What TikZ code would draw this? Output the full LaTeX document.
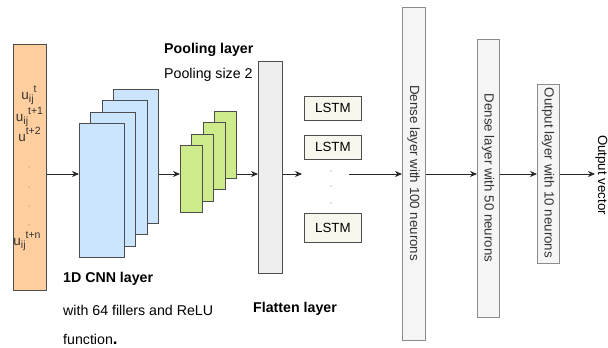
\documentclass[tikz,border=0pt]{standalone}
\usepackage{fontspec}
\setmainfont{Liberation Sans}
\usetikzlibrary{arrows.meta}

\definecolor{inputfill}{HTML}{FFCE9F}
\definecolor{cnnfill}{HTML}{CCE5FF}
\definecolor{poolfill}{HTML}{CDEB8B}
\definecolor{flatfill}{HTML}{EEEEEE}
\definecolor{lstmfill}{HTML}{F9F7ED}
\definecolor{densefill}{HTML}{F5F5F5}
\definecolor{edgegray}{HTML}{4D4D4D}
\definecolor{lightedge}{HTML}{8C8C8C}
\definecolor{txtgray}{HTML}{333333}

% lowered / raised pieces of the input sequence labels
\newcommand\lowpart[1]{\raisebox{-0.28em}{\fontsize{10.5}{10.5}\selectfont #1}}
\newcommand\highpart[1]{\raisebox{0.48em}{\fontsize{10.5}{10.5}\selectfont #1}}

\tikzset{
  layerbox/.style={draw=edgegray, line width=0.8pt, anchor=north west, inner sep=0pt},
  densebox/.style={draw=lightedge, fill=densefill, line width=0.8pt, anchor=north west, inner sep=0pt},
  bigtext/.style={font=\fontsize{14.2}{17}\selectfont, inner sep=0pt, anchor=base west},
  boldtext/.style={bigtext, font=\fontsize{14.2}{17}\selectfont\bfseries},
  smalltext/.style={font=\fontsize{13.3}{16}\selectfont, inner sep=0pt},
  seqtext/.style={font=\fontsize{13.5}{15}\selectfont, text=txtgray, inner sep=0pt, anchor=base},
  arr/.style={-{Stealth[length=7pt,width=6pt]}, line width=0.8pt, draw=black!85},
  dotmark/.style={circle, fill=black!45, inner sep=0pt, minimum size=1.3pt},
}

\begin{document}
\begin{tikzpicture}[x=1pt,y=-1pt]
\useasboundingbox (0,0) rectangle (608,348);

% input sequence
\node[layerbox, fill=inputfill, minimum width=33pt, minimum height=246pt] (inp) at (13,44) {};
\node[seqtext] (s1) at (29,99) {u\lowpart{ij}\highpart{t}};
\node[seqtext] (s2) at (29.5,121) {u\lowpart{ij}\highpart{t+1}};
\node[seqtext] (s3) at (29.5,141) {u\highpart{t+2}};
\node[dotmark] (d1) at (29,167) {};
\node[dotmark] (d2) at (29,187) {};
\node[dotmark] (d3) at (29,206) {};
\node[dotmark] (d4) at (29,225) {};
\node[seqtext] (s4) at (27,245) {u\lowpart{ij}\highpart{t+n}};

% 1D convolution feature maps (back to front)
\node[layerbox, fill=cnnfill, minimum width=45pt, minimum height=134pt] (c4) at (113,89) {};
\node[layerbox, fill=cnnfill, minimum width=45pt, minimum height=134pt] (c3) at (101.7,100.3) {};
\node[layerbox, fill=cnnfill, minimum width=45pt, minimum height=134pt] (c2) at (90.3,111.7) {};
\node[layerbox, fill=cnnfill, minimum width=45pt, minimum height=134pt] (c1) at (79,123) {};

% pooled maps (back to front)
\node[layerbox, fill=poolfill, minimum width=22pt, minimum height=67pt] (p4) at (214,111) {};
\node[layerbox, fill=poolfill, minimum width=22pt, minimum height=67pt] (p3) at (202.7,122.3) {};
\node[layerbox, fill=poolfill, minimum width=22pt, minimum height=67pt] (p2) at (191.3,133.7) {};
\node[layerbox, fill=poolfill, minimum width=22pt, minimum height=67pt] (p1) at (180,145) {};

% flatten
\node[layerbox, fill=flatfill, minimum width=24pt, minimum height=212pt] (fl) at (258,61) {};

% LSTM units
\node[layerbox, fill=lstmfill, minimum width=57pt, minimum height=24pt] (l1) at (304,96) {};
\node[smalltext] at (l1.center) {LSTM};
\node[layerbox, fill=lstmfill, minimum width=57pt, minimum height=24pt] (l2) at (304,135) {};
\node[smalltext] at (l2.center) {LSTM};
\node[layerbox, fill=lstmfill, minimum width=57pt, minimum height=29pt] (l3) at (304,213) {};
\node[smalltext] at (l3.center) {LSTM};
\node[dotmark] (ld1) at (331,171) {};
\node[dotmark] (ld2) at (331,186) {};
\node[dotmark] (ld3) at (331,203) {};

% dense and output layers
\node[densebox, minimum width=23pt, minimum height=333pt] (dn1) at (402,7) {};
\node[smalltext, text=txtgray, rotate=-90] at (413.5,173) {Dense layer with 100 neurons};
\node[densebox, minimum width=22pt, minimum height=278pt] (dn2) at (477,39) {};
\node[smalltext, text=txtgray, rotate=-90] at (488,178) {Dense layer with 50 neurons};
\node[densebox, minimum width=22pt, minimum height=179pt] (outl) at (537,84) {};
\node[smalltext, text=txtgray, rotate=-90] at (548,173) {Output layer with 10 neurons};
\node[smalltext, rotate=-90] (ovec) at (601.5,175) {Output vector};

% connectors
\coordinate (row) at (0,174);
\coordinate (flatend) at (302,174);
\coordinate (lstmout) at (349,174);
\coordinate (vecend) at (595,174);
\draw[arr] (inp.east |- row) -- (c1.west |- row);
\draw[arr] (c4.east |- row) -- (p1.west |- row);
\draw[arr] (p4.east |- row) -- (fl.west |- row);
\draw[arr] (fl.east |- row) -- (flatend);
\draw[arr] (lstmout) -- (dn1.west |- row);
\draw[arr] (dn1.east |- row) -- (dn2.west |- row);
\draw[arr] (dn2.east |- row) -- (outl.west |- row);
\draw[arr] (outl.east |- row) -- (vecend);

% captions
\node[boldtext] (tpool) at (164,53) {Pooling layer};
\node[bigtext] (tpsize) at (164,78) {Pooling size 2};
\node[boldtext] (tcnn) at (63,282) {1D CNN layer};
\node[bigtext] (tcnn2) at (63,315) {with 64 fillers and ReLU};
\node[bigtext] (tcnn3) at (63,344) {function\textbf{\fontsize{17}{17}\selectfont .}};
\node[boldtext] (tflat) at (253,312) {Flatten layer};
\end{tikzpicture}
\end{document}
